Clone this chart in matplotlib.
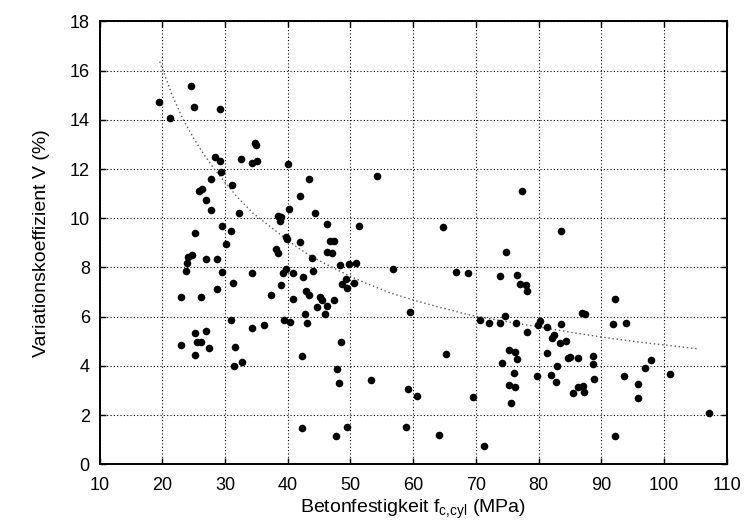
import matplotlib
matplotlib.use("Agg")
import matplotlib.pyplot as plt

plt.rcParams['font.family'] = ['Liberation Sans', 'DejaVu Sans']

# Measured data points: concrete strength fc (MPa) and coefficient of variation V (%)
fc = [19.5, 21.2, 24.6, 25.1, 29.25, 34.8, 35.0, 28.4, 29.25, 32.55, 34.3, 35.05,
      29.4, 27.8, 31.1, 25.9, 26.4, 27.0, 27.7, 32.3, 29.5, 30.9, 25.2, 30.1,
      24.05, 24.8, 26.9, 28.7, 23.9, 23.8, 29.5, 34.3, 31.3, 28.7, 23.0, 26.1,
      31.0, 34.3, 27.0, 25.2, 25.5, 26.2, 23.0, 27.45, 31.6, 25.2, 32.7, 31.4,
      40.0, 54.2, 43.4, 42.0, 40.2, 38.4, 39.0, 38.7, 44.3, 46.2, 51.4, 39.7,
      39.9, 42.0, 46.75, 47.4, 38.2, 38.5, 46.3, 47.1, 43.8, 48.3, 49.8, 50.9,
      39.7, 39.25, 40.8, 42.4, 44.0, 49.35, 48.6, 49.4, 50.6, 39.0, 37.3, 40.8,
      42.9, 43.4, 45.1, 45.5, 47.3, 46.3, 44.6, 42.7, 45.9, 39.4, 40.4, 43.1,
      36.2, 48.5, 42.3, 47.9, 48.2, 53.3, 42.2, 49.5, 47.75,
      77.3, 64.8, 74.8, 56.8, 66.9, 68.7, 73.9, 76.6, 77.1, 78.0, 78.2, 59.55,
      74.6, 70.7, 72.15, 73.9, 76.4, 78.1, 80.2, 79.9, 81.3, 75.25, 76.25, 76.5,
      81.3, 65.25, 74.2, 76.1, 79.7, 75.35, 76.25, 59.1, 60.6, 69.6, 75.6, 58.9,
      64.1, 71.35, 83.5, 92.2, 86.9, 87.4, 91.9, 93.9, 83.5, 82.4, 82.15, 83.4,
      84.3, 84.75, 85.0, 86.35, 88.6, 88.7, 83.0, 82.0, 82.7, 97.9, 97.0, 93.6,
      101.0, 88.8, 86.35, 87.05, 87.2, 85.5, 95.8, 95.9, 107.2, 92.15]
V = [14.74, 14.09, 15.39, 14.51, 14.46, 13.07, 12.99, 12.5, 12.34, 12.41, 12.24, 12.33,
     11.89, 11.6, 11.35, 11.11, 11.2, 10.73, 10.33, 10.2, 9.69, 9.47, 9.41, 8.94,
     8.44, 8.51, 8.34, 8.34, 8.17, 7.86, 7.8, 7.76, 7.37, 7.14, 6.81, 6.79,
     5.87, 5.53, 5.43, 5.34, 4.96, 4.96, 4.84, 4.72, 4.78, 4.46, 4.17, 3.98,
     12.2, 11.73, 11.6, 10.89, 10.38, 10.1, 10.04, 9.9, 10.22, 9.77, 9.69, 9.25,
     9.16, 9.04, 9.09, 9.09, 8.75, 8.58, 8.62, 8.58, 8.4, 8.11, 8.14, 8.2,
     7.94, 7.76, 7.78, 7.63, 7.86, 7.52, 7.32, 7.15, 7.36, 7.28, 6.87, 6.71,
     7.06, 6.87, 6.79, 6.68, 6.68, 6.45, 6.41, 6.11, 6.11, 5.87, 5.77, 5.73,
     5.66, 4.97, 4.4, 3.87, 3.32, 3.44, 1.49, 1.52, 1.16,
     11.11, 9.63, 8.63, 7.94, 7.83, 7.78, 7.65, 7.7, 7.32, 7.29, 7.04, 6.19,
     6.04, 5.87, 5.73, 5.76, 5.73, 5.37, 5.84, 5.66, 5.57, 4.66, 4.55, 4.28,
     4.51, 4.48, 4.12, 3.72, 3.6, 3.24, 3.15, 3.05, 2.78, 2.72, 2.49, 1.5,
     1.2, 0.74, 9.5, 6.72, 6.16, 6.1, 5.69, 5.76, 5.7, 5.24, 5.12, 4.92,
     5.0, 4.33, 4.37, 4.31, 4.39, 4.09, 4.0, 3.63, 3.35, 4.24, 3.9, 3.58,
     3.67, 3.47, 3.14, 3.2, 2.93, 2.9, 3.26, 2.71, 2.1, 1.14]

# Trend curve
fit_fc = [19.6, 21.5, 23.35, 25.0, 26.5, 28.0, 29.7, 32.0, 34.5, 37.0, 39.3, 41.5,
          43.8, 46.0, 48.07, 50.3, 52.5, 56.3, 59.5, 63.8, 69.1, 74.4, 79.7, 85.5,
          90.9, 96.2, 101.5, 105.5]
fit_V = [16.37, 15.05, 14.0, 13.25, 12.65, 12.1, 11.55, 10.85, 10.2, 9.7, 9.25, 8.82,
         8.44, 8.15, 7.88, 7.6, 7.36, 6.97, 6.72, 6.41, 6.06, 5.82, 5.6, 5.35,
         5.14, 4.96, 4.81, 4.69]

x_ticks = [10, 20, 30, 40, 50, 60, 70, 80, 90, 100, 110]
y_ticks = [0, 2, 4, 6, 8, 10, 12, 14, 16, 18]

fig = plt.figure(figsize=(7.47, 5.29), dpi=100)
ax = fig.add_axes([0.1333, 0.1223, 0.8397, 0.8371])

ax.plot(fit_fc, fit_V, linestyle=(0, (1, 2)), color='0.35', linewidth=1.0, zorder=2)
ax.scatter(fc, V, s=30, color='black', zorder=3, linewidths=0)

ax.set_xlim(10, 110)
ax.set_ylim(0, 18)
ax.set_xticks(x_ticks)
ax.set_yticks(y_ticks)
ax.grid(True, linestyle=(0, (1, 2)), color='black', linewidth=0.8)
ax.set_axisbelow(True)
ax.tick_params(direction='in', top=True, right=True, length=4, width=1,
               labelsize=13)
ax.tick_params(axis='x', pad=9)
ax.tick_params(axis='y', pad=7)
for sp in ax.spines.values():
    sp.set_linewidth(1.4)

ax.set_xlabel(r'Betonfestigkeit f$_\mathregular{c{,}cyl}$ (MPa)', fontsize=14, labelpad=3)
ax.set_ylabel('Variationskoeffizient V (%)', fontsize=14, labelpad=14)

fig.savefig('out.png', dpi=100)
